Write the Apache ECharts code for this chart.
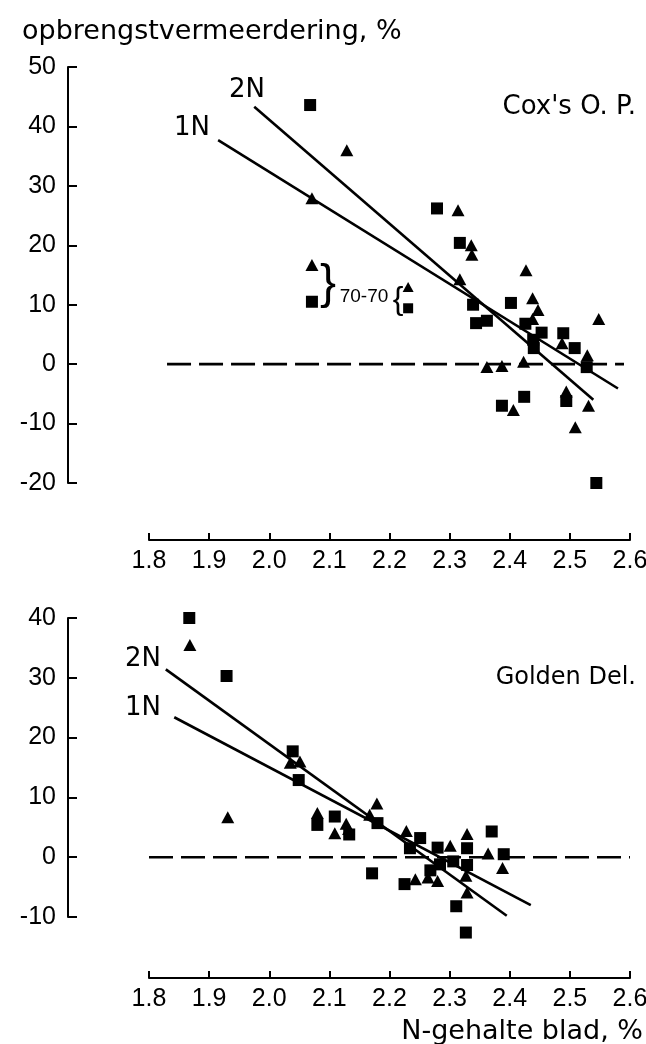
<!DOCTYPE html>
<html><head><meta charset="utf-8">
<script src="https://cdn.jsdelivr.net/npm/echarts@6/dist/echarts.min.js"></script>
<style>html,body{margin:0;padding:0;background:#fff}#c{width:646px;height:1044px}</style>
</head><body><div id="c"></div>
<script>
// ---- data ----
const xMin = 1.8, xMax = 2.6, xStep = 0.1;
const coxYTicks = { min: -20, max: 50, step: 10 };
const gdYTicks  = { min: -10, max: 40, step: 10 };

// Cox's O.P. : squares = 2N, triangles = 1N
const coxSquares = [[2.068,43.6],[2.071,10.5],[2.279,26.2],[2.317,20.4],[2.339,10.0],[2.344,6.9],[2.362,7.3],[2.402,10.3],[2.426,6.8],[2.453,5.3],[2.439,4.1],[2.440,2.7],[2.489,5.2],[2.508,2.7],[2.528,-0.5],[2.424,-5.5],[2.387,-7.0],[2.494,-6.2],[2.544,-20.0]];
const coxTriangles = [[2.129,36.0],[2.071,27.9],[2.071,16.7],[2.314,25.9],[2.336,20.0],[2.337,18.4],[2.317,14.3],[2.427,15.8],[2.438,11.1],[2.447,9.1],[2.438,7.6],[2.487,3.5],[2.529,1.5],[2.362,-0.5],[2.387,-0.3],[2.423,0.4],[2.406,-7.7],[2.494,-4.6],[2.531,-7.0],[2.509,-10.6],[2.548,7.6]];
const coxKeyTriangle = [[2.231,13.0]];
const coxKeySquare = [[2.231,9.4]];
const cox2N = [[1.975,43.3],[2.539,-6.0]];
const cox1N = [[1.915,37.7],[2.580,-4.1]];
const coxZero = [[1.83,0],[2.59,0]];

// Golden Del.
const gdSquares = [[1.867,40.0],[1.929,30.3],[2.039,17.7],[2.049,12.9],[2.080,5.4],[2.109,6.8],[2.133,3.8],[2.180,5.7],[2.171,-2.7],[2.251,3.2],[2.234,1.5],[2.280,1.6],[2.329,1.5],[2.370,4.3],[2.268,-2.2],[2.284,-1.2],[2.306,-0.7],[2.329,-1.3],[2.225,-4.5],[2.311,-8.2],[2.327,-12.6],[2.390,0.5]];
const gdTriangles = [[1.868,35.5],[1.931,6.7],[2.035,15.8],[2.051,16.0],[2.080,7.4],[2.109,4.0],[2.128,5.6],[2.132,4.7],[2.167,7.1],[2.179,9.0],[2.228,4.4],[2.301,1.9],[2.329,3.9],[2.364,0.6],[2.264,-3.4],[2.280,-4.0],[2.243,-3.7],[2.327,-3.1],[2.329,-5.9],[2.388,-1.8]];
const gd2N = [[1.828,31.4],[2.395,-9.8]];
const gd1N = [[1.842,23.4],[2.435,-8.0]];
const gdZero = [[1.80,0],[2.60,0]];

// ---- chart ----
const FONT = '"DejaVu Sans", "Noto Sans", sans-serif';
const NUMFONT = '"Liberation Sans", Arial, sans-serif';
const chart = echarts.init(document.getElementById('c'), null, {renderer: 'canvas'});

function xAxisDef(gridIndex, offset) {
  return {
    type: 'value', gridIndex, min: xMin, max: xMax, interval: xStep,
    position: 'bottom', offset,
    axisLine: { onZero: false, lineStyle: { color: '#000', width: 2 } },
    axisTick: { inside: true, length: 7, lineStyle: { color: '#000', width: 2 } },
    axisLabel: { color: '#000', fontSize: 25, fontFamily: NUMFONT, margin: 9,
      formatter: v => v.toFixed(1) },
    splitLine: { show: false }
  };
}
function yAxisDef(gridIndex, t) {
  return {
    type: 'value', gridIndex, min: t.min, max: t.max, interval: t.step,
    position: 'left', offset: 81,
    axisLine: { onZero: false, lineStyle: { color: '#000', width: 2 } },
    axisTick: { inside: true, length: 9, lineStyle: { color: '#000', width: 2 } },
    axisLabel: { color: '#000', fontSize: 25, fontFamily: NUMFONT, margin: 12 },
    splitLine: { show: false }
  };
}
function scatter(idx, data, sym, size) {
  return { type: 'scatter', xAxisIndex: idx, yAxisIndex: idx, data, symbol: sym,
    symbolSize: size, itemStyle: { color: '#000', opacity: 1 }, z: 5, clip: false,
    emphasis: { disabled: true } };
}
function line(idx, data, dashed) {
  return { type: 'line', xAxisIndex: idx, yAxisIndex: idx, data, symbol: 'none',
    lineStyle: { color: '#000', width: dashed ? 2.6 : 2.6, type: dashed ? [24, 8] : 'solid' },
    z: 3, silent: true, clip: false, animation: false };
}

function txt(text, x, y, size, align, family) {
  const f = family || FONT;
  return { type: 'text', x, y, z: 10,
    style: { text, fill: '#000', font: size + 'px ' + f, fontSize: size, fontFamily: f,
      align: align, verticalAlign: 'middle', textAlign: align, textVerticalAlign: 'middle' } };
}

chart.setOption({
  animation: false,
  backgroundColor: '#fff',
  grid: [
    { left: 149, right: 16, top: 67, height: 416, outerBoundsMode: 'none' },
    { left: 149, right: 16, top: 618, height: 299, outerBoundsMode: 'none' }
  ],
  xAxis: [xAxisDef(0, 57), xAxisDef(1, 61)],
  yAxis: [yAxisDef(0, coxYTicks), yAxisDef(1, gdYTicks)],
  series: [
    line(0, coxZero, true), line(0, cox2N, false), line(0, cox1N, false),
    scatter(0, coxSquares, 'rect', 12), scatter(0, coxTriangles, 'triangle', [13, 12]),
    scatter(0, coxKeyTriangle, 'triangle', [11, 10]), scatter(0, coxKeySquare, 'rect', 10),
    line(1, gdZero, true), line(1, gd2N, false), line(1, gd1N, false),
    scatter(1, gdSquares, 'rect', 12), scatter(1, gdTriangles, 'triangle', [13, 12])
  ],
  graphic: [
    txt('opbrengstvermeerdering, %', 22, 32, 27, 'left'),
    txt("Cox's O. P.", 636, 107, 26, 'right'),
    txt('Golden Del.', 636, 678, 24, 'right'),
    txt('N-gehalte blad, %', 643, 1032, 27, 'right'),
    txt('2N', 247, 90, 26, 'center'),
    txt('1N', 192, 128, 26, 'center'),
    txt('2N', 143, 659, 26, 'center'),
    txt('1N', 143, 708, 26, 'center'),
    txt('}', 328, 285, 48, 'center', NUMFONT),
    txt('70-70', 364, 297, 19, 'center', NUMFONT),
    txt('{', 398, 300, 32, 'center', NUMFONT)
  ]
});
</script>
</body></html>
